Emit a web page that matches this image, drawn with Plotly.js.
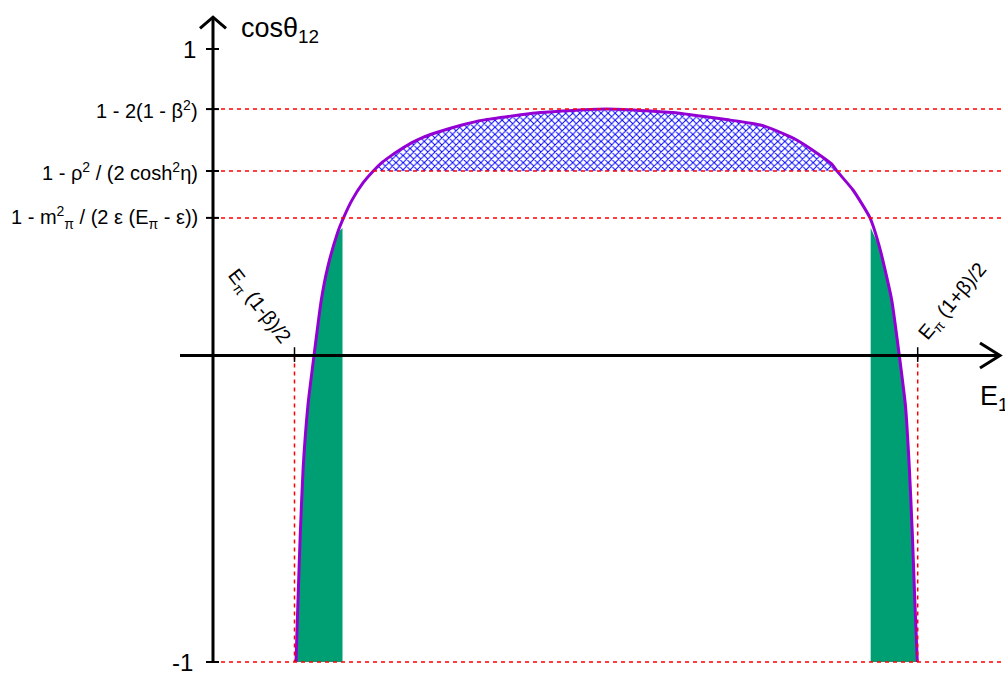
<!DOCTYPE html>
<html>
<head>
<meta charset="utf-8">
<script src="https://cdn.plot.ly/plotly-3.0.1.min.js"></script>
<style>html,body{margin:0;padding:0;background:#fff;}#chart{width:1005px;height:675px;}</style>
</head>
<body>
<div id="chart"></div>
<script>
// ---- data (E1 in arbitrary units, y-axis at E1 = 0) ----
const curveE1 = [0.830, 0.850, 0.873, 0.902, 0.950, 1.010, 1.083, 1.148, 1.245, 1.305, 1.390, 1.500, 1.603, 1.680, 1.765, 1.870, 1.980, 2.100, 2.220, 2.490, 2.700, 3.270, 3.935, 4.600, 5.170, 5.380, 5.500, 5.770, 5.837, 6.037, 6.190, 6.237, 6.400, 6.570, 6.670, 6.787, 6.863, 6.925, 6.963, 6.993, 7.018, 7.043];
const curveCos = [-1.000, -0.798, -0.579, -0.364, -0.160, 0.000, 0.181, 0.289, 0.400, 0.449, 0.507, 0.563, 0.602, 0.627, 0.648, 0.671, 0.693, 0.712, 0.726, 0.752, 0.768, 0.793, 0.804, 0.793, 0.768, 0.758, 0.750, 0.714, 0.703, 0.661, 0.624, 0.603, 0.540, 0.449, 0.348, 0.181, 0.000, -0.165, -0.364, -0.579, -0.798, -1.000];

const yLevels = [0.804, 0.602, 0.449];            // red dotted reference levels
const yLevelLabels = ['1 - 2(1 - β<sup>2</sup>)', '1 - ρ<sup>2</sup> / (2 cosh<sup>2</sup>η)', '1 - m<sup>2</sup><sub>π</sub> / (2 ε (E<sub>π</sub> - ε))'];
const yEndTicks = [1, -1];
const yEndLabels = ['1', '-1'];
const xTicks = [0.815, 7.047];                     // E_pi(1-beta)/2 and E_pi(1+beta)/2
const xTickLabels = ['E<sub>π</sub> (1-β)/2', 'E<sub>π</sub> (1+β)/2'];
const greenEdges = [1.295, 6.577];                 // vertical edges of the green bands
const hatchLevel = 0.602;

// ---- helpers ----
function interpY(x) {
  for (let i = 0; i < curveE1.length - 1; i++) {
    const a = curveE1[i], b = curveE1[i + 1];
    if ((x - a) * (x - b) <= 0) {
      const t = (x - a) / (b - a);
      return curveCos[i] + t * (curveCos[i + 1] - curveCos[i]);
    }
  }
  return null;
}

const FONT = 'Liberation Sans, Arial, Helvetica, sans-serif';
const GREEN = '#009E73';
const PURPLE = '#9400D3';

// left green band
const gL = {x: [], y: []};
for (let i = 0; i < curveE1.length; i++) if (curveE1[i] < greenEdges[0]) { gL.x.push(curveE1[i]); gL.y.push(curveCos[i]); }
gL.x.push(greenEdges[0], greenEdges[0]); gL.y.push(interpY(greenEdges[0]) - 0.025, -1);
// right green band
const gR = {x: [greenEdges[1], greenEdges[1]], y: [-1, interpY(greenEdges[1]) - 0.025]};
for (let i = 0; i < curveE1.length; i++) if (curveE1[i] > greenEdges[1]) { gR.x.push(curveE1[i]); gR.y.push(curveCos[i]); }
// hatched cap
const h = {x: [], y: []};
for (let i = 0; i < curveE1.length; i++) if (curveCos[i] >= hatchLevel - 0.002) { h.x.push(curveE1[i]); h.y.push(curveCos[i]); }

const traces = [
  {x: gL.x, y: gL.y, mode: 'lines', fill: 'toself', fillcolor: GREEN, line: {width: 0}, hoverinfo: 'skip', showlegend: false},
  {x: gR.x, y: gR.y, mode: 'lines', fill: 'toself', fillcolor: GREEN, line: {width: 0}, hoverinfo: 'skip', showlegend: false},
  {x: h.x, y: h.y, mode: 'lines', fill: 'toself', fillcolor: 'rgba(255,255,255,0)',
   fillpattern: {shape: 'x', fgcolor: '#0000ff', bgcolor: 'rgba(255,255,255,0)', size: 5, solidity: 0.35},
   line: {width: 0, shape: 'spline', smoothing: 0.5}, hoverinfo: 'skip', showlegend: false},
  {x: curveE1, y: curveCos, mode: 'lines', line: {color: PURPLE, width: 3, shape: 'spline', smoothing: 0.5}, hoverinfo: 'skip', showlegend: false}
];

const shapes = [];
const red = {color: '#ff0000', width: 1.5, dash: '4px,4px'};
// red dotted horizontal lines
yLevels.concat([-1]).forEach(v => shapes.push({type: 'line', xref: 'x', yref: 'y', x0: 0, x1: 7.92, y0: v, y1: v, line: red}));
// red dotted vertical lines
xTicks.forEach(v => shapes.push({type: 'line', xref: 'x', yref: 'y', x0: v, x1: v, y0: 0, y1: -1, line: red}));
// axes
const blk = {color: '#000', width: 3};
shapes.push({type: 'line', xref: 'x', yref: 'y', x0: 0, x1: 0, y0: -1, y1: 1.104, line: blk});
shapes.push({type: 'line', xref: 'x', yref: 'y', x0: -0.33, x1: 7.87, y0: 0, y1: 0, line: blk});
// arrow heads (open chevrons)
shapes.push({type: 'path', xref: 'x', yref: 'y', path: 'M -0.13 1.067 L 0 1.104 L 0.13 1.067', line: blk});
shapes.push({type: 'path', xref: 'x', yref: 'y', path: 'M 7.67 0.041 L 7.87 0 L 7.67 -0.041', line: blk});
// y ticks
yLevels.concat(yEndTicks).forEach(v => shapes.push({type: 'line', xref: 'x', yref: 'y', x0: -0.07, x1: 0.06, y0: v, y1: v, line: {color: '#000', width: 2}}));
// x ticks
xTicks.forEach(v => shapes.push({type: 'line', xref: 'x', yref: 'y', x0: v, x1: v, y0: 0.027, y1: -0.021, line: {color: '#000', width: 1.5}}));

const annotations = [];
yLevels.forEach((v, i) => annotations.push({x: -0.13, y: v, xref: 'x', yref: 'y', text: yLevelLabels[i], showarrow: false, xanchor: 'right', yanchor: 'middle', font: {family: FONT, size: 20, color: '#000'}}));
annotations.push({x: -0.15, y: yEndTicks[0], xref: 'x', yref: 'y', text: yEndLabels[0], showarrow: false, xanchor: 'right', yanchor: 'middle', font: {family: FONT, size: 24, color: '#000'}});
annotations.push({x: -0.18, y: yEndTicks[1], xref: 'x', yref: 'y', text: yEndLabels[1], showarrow: false, xanchor: 'right', yanchor: 'middle', font: {family: FONT, size: 24, color: '#000'}});
annotations.push({x: xTicks[0] - 0.36, y: 0.16, xref: 'x', yref: 'y', text: xTickLabels[0], showarrow: false, textangle: 52, xanchor: 'center', yanchor: 'middle', font: {family: FONT, size: 20, color: '#000'}});
annotations.push({x: xTicks[1] + 0.36, y: 0.175, xref: 'x', yref: 'y', text: xTickLabels[1], showarrow: false, textangle: -50, xanchor: 'center', yanchor: 'middle', font: {family: FONT, size: 20, color: '#000'}});
annotations.push({x: 0.26, y: 1.062, xref: 'x', yref: 'y', text: 'cosθ<sub>12</sub>', showarrow: false, xanchor: 'left', yanchor: 'middle', font: {family: FONT, size: 27, color: '#000'}});
annotations.push({x: 7.65, y: -0.14, xref: 'x', yref: 'y', text: 'E<sub>1</sub>', showarrow: false, xanchor: 'left', yanchor: 'middle', font: {family: FONT, size: 27, color: '#000'}});

const layout = {
  width: 1005, height: 675,
  margin: {l: 0, r: 0, t: 0, b: 0, pad: 0},
  paper_bgcolor: '#fff', plot_bgcolor: '#fff',
  xaxis: {range: [-2.13, 7.92], visible: false, fixedrange: true},
  yaxis: {range: [-1.0424, 1.1599], visible: false, fixedrange: true},
  shapes: shapes,
  annotations: annotations,
  showlegend: false
};

Plotly.newPlot('chart', traces, layout, {staticPlot: true, displayModeBar: false});
</script>
</body>
</html>
